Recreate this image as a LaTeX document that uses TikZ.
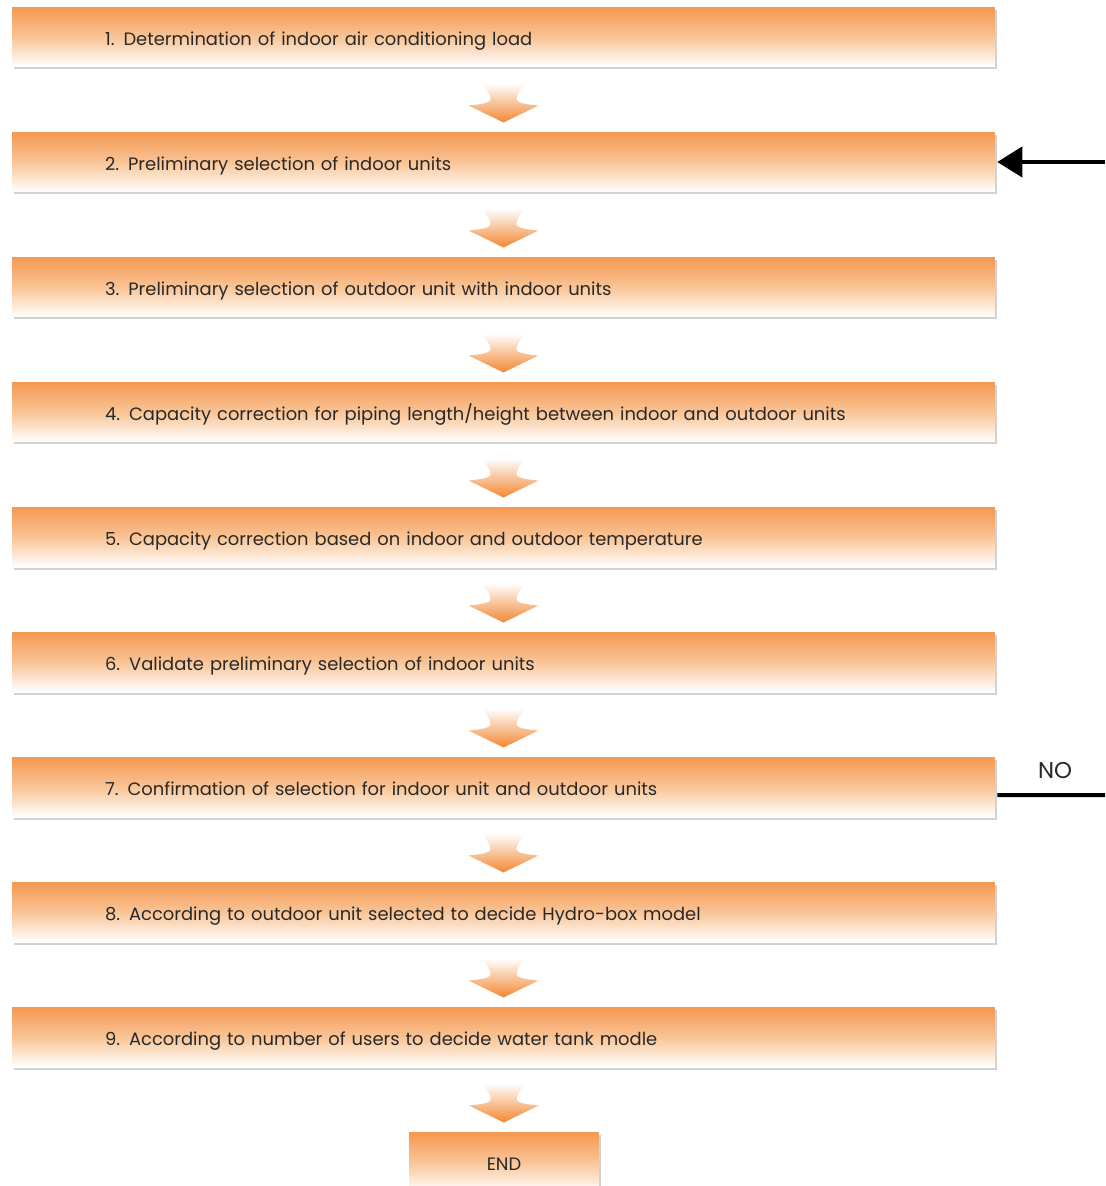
\documentclass[tikz,border=0pt]{standalone}
\usepackage{fontspec}
\setmainfont{Poppins}
\usetikzlibrary{arrows.meta,calc,shadows}

\definecolor{boxorange}{RGB}{245,152,80}
\definecolor{boxmid}{RGB}{249,196,150}
\definecolor{arroworange}{RGB}{242,135,50}
\definecolor{textgray}{RGB}{40,40,40}
\definecolor{shadowgray}{RGB}{210,210,210}

\newcommand{\flowarrow}[2]{%
	\begin{scope}[shift={($(#1.south)!0.5!(#2.north)$)}]
		\shade[fatarrow] (-22,-16)
		.. controls (-15,-8) and (-13,-4) .. (-13,0)
		.. controls (-14,4) and (-25,5) .. (-35,6)
		-- (0,23) -- (35,6)
		.. controls (25,5) and (14,4) .. (13,0)
		.. controls (13,-4) and (15,-8) .. (22,-16) -- cycle;
	\end{scope}}

\begin{document}
\begin{tikzpicture}[
		x=0.02cm,y=-0.02cm,
		stepbox/.style={rectangle,minimum width=19.66cm,minimum height=1.2cm,
			inner xsep=1.86cm,text width=15.94cm,align=left,
			text height=9.6pt,text depth=0pt,
			top color=boxorange,bottom color=white,middle color=boxmid,
			drop shadow={shadow xshift=0.04cm,shadow yshift=-0.05cm,fill=shadowgray,opacity=1},
			font=\fontsize{10.2pt}{12pt}\selectfont,text=textgray},
		endbox/.style={stepbox,minimum width=3.8cm,text width=,inner xsep=0pt,align=center},
		fatarrow/.style={top color=white,bottom color=arroworange},
		lab/.style={font=\fontsize{13pt}{15pt}\selectfont,text=textgray},
		arr/.style={-{Triangle[length=0.5cm,width=0.6cm]},line width=0.08cm}
		]
		\useasboundingbox (0,0) rectangle (1105,1186);
		
		% --- steps
		\node[stepbox] (step1) at (503.5,37) {1. Determination of indoor air conditioning load};
		\node[stepbox] (step2) at (503.5,162) {2. Preliminary selection of indoor units};
		\node[stepbox] (step3) at (503.5,287) {3. Preliminary selection of outdoor unit with indoor units};
		\node[stepbox] (step4) at (503.5,412) {4. Capacity correction for piping length/height between indoor and outdoor units};
		\node[stepbox] (step5) at (503.5,537) {5. Capacity correction based on indoor and outdoor temperature};
		\node[stepbox] (step6) at (503.5,662) {6. Validate preliminary selection of indoor units};
		\node[stepbox] (step7) at (503.5,787) {7. Confirmation of selection for indoor unit and outdoor units};
		\node[stepbox] (step8) at (503.5,912) {8. According to outdoor unit selected to decide Hydro-box model};
		\node[stepbox] (step9) at (503.5,1037) {9. According to number of users to decide water tank modle};
		\node[endbox] (endbox) at (504,1162) {END};
		
		% --- arrows between steps
		\foreach \a/\b in {step1/step2,step2/step3,step3/step4,step4/step5,step5/step6,
			step6/step7,step7/step8,step8/step9,step9/endbox}
		\flowarrow{\a}{\b};
		
		% --- loop back from step 7
		\coordinate (backin) at (1105,162);
		\coordinate (backout) at (1105,795);
		\draw[arr] (backin) -- ([xshift=0.04cm]step2.east);
		\draw[line width=0.08cm] ([yshift=-0.16cm,xshift=0.04cm]step7.east) -- (backout);
		\node[lab] (no) at (1055,771) {NO};
		
	\end{tikzpicture}
\end{document}
